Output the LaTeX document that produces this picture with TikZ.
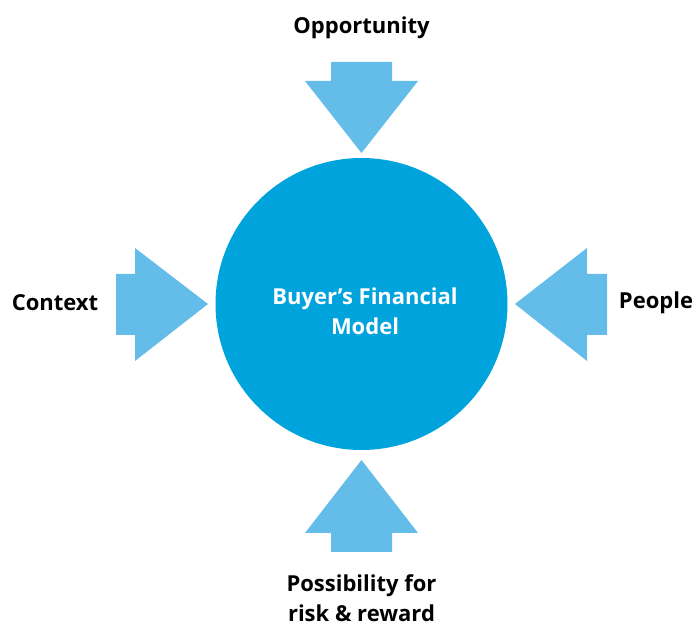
\documentclass[tikz,border=0pt]{standalone}
\usepackage{fontspec}
\setmainfont{Open Sans}
\definecolor{arrowblue}{RGB}{99,189,232}
\definecolor{circleblue}{RGB}{0,163,220}
\begin{document}
\begin{tikzpicture}[x=1pt,y=1pt,
  lbl/.style={font=\fontsize{22}{30}\selectfont\bfseries, text=black, align=center, inner sep=0pt},
  arrowshape/.style={fill=arrowblue, draw=none}]
\useasboundingbox (0,0) rectangle (697,626);
% central circle
\node[circle, fill=circleblue, minimum size=292pt, inner sep=0pt] (hub) at (361.5,322) {};
\node[lbl, text=white] (hubtext) at (365,315) {Buyer’s Financial\\Model};
% arrows
\fill[arrowshape] (331,564) -- (392,564) -- (392,545) -- (418,545) -- (361.5,473) -- (305,545) -- (331,545) -- cycle;
\fill[arrowshape] (361.5,166) -- (418,93) -- (392,93) -- (392,74) -- (331,74) -- (331,93) -- (305,93) -- cycle;
\fill[arrowshape] (116,352) -- (135,352) -- (135,378) -- (208,322) -- (135,265) -- (135,291) -- (116,291) -- cycle;
\fill[arrowshape] (515,322) -- (587,378) -- (587,352) -- (607,352) -- (607,291) -- (587,291) -- (587,265) -- cycle;
% labels
\node[lbl] (opp) at (361.5,598) {Opportunity};
\node[lbl] (ctx) at (55,323) {Context};
\node[lbl] (ppl) at (656,323) {People};
\node[lbl] (pos) at (361.5,28) {Possibility for\\risk \& reward};
\end{tikzpicture}
\end{document}
